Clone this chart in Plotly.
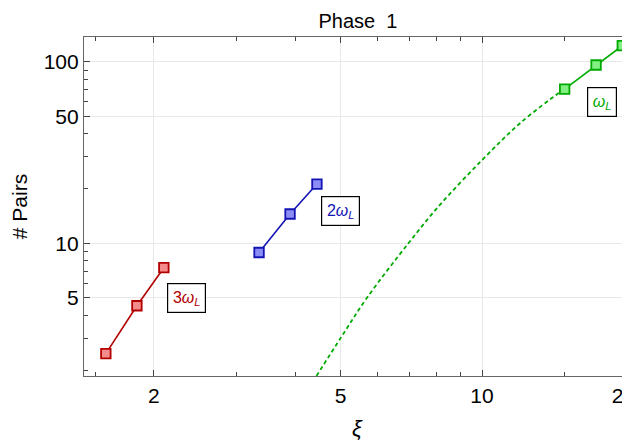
import math
import plotly.graph_objects as go

# ---- data ----
xi_3wl = [1.58, 1.84, 2.10]
pairs_3wl = [2.47, 4.53, 7.34]

xi_2wl = [3.35, 3.90, 4.45]
pairs_2wl = [8.9, 14.5, 21.2]

xi_wl = [15.0, 17.5, 19.9]
pairs_wl = [70.7, 95.9, 122.5]

xi_fit = [4.44, 5.02, 5.69, 6.97, 8.07, 10.0, 12.05, 14.54, 15.0]
pairs_fit = [1.86, 3.06, 5.02, 10.0, 15.9, 28.7, 45.8, 67.0, 70.7]

x_major = [2, 5, 10, 20]
x_major_text = ["2", "5", "10", "20"]
x_minor = [1.5, 3, 4, 6, 7, 8, 9, 15]
x_extra_grid = [3]
y_major = [5, 10, 50, 100]
y_major_text = ["5", "10", "50", "100"]
y_minor = [2, 3, 4, 6, 7, 8, 9, 20, 30, 40, 60, 70, 80, 90]

RED_LINE, RED_FILL = "rgb(178,0,0)", "rgb(244,140,140)"
BLUE_LINE, BLUE_FILL = "rgb(20,20,180)", "rgb(140,140,245)"
GREEN_LINE, GREEN_FILL = "rgb(0,170,0)", "rgb(130,240,130)"
GRID = "#e8e8e8"

fig = go.Figure()

fig.add_trace(go.Scatter(x=xi_fit, y=pairs_fit, mode="lines",
                         line=dict(color=GREEN_LINE, width=1.8, dash="4px,3px", shape="spline",
                                   smoothing=1.0),
                         showlegend=False, hoverinfo="skip"))

for xs, ys, lc, fc in [(xi_3wl, pairs_3wl, RED_LINE, RED_FILL),
                       (xi_2wl, pairs_2wl, BLUE_LINE, BLUE_FILL),
                       (xi_wl, pairs_wl, GREEN_LINE, GREEN_FILL)]:
    fig.add_trace(go.Scatter(x=xs, y=ys, mode="lines+markers",
                             line=dict(color=lc, width=1.6),
                             marker=dict(symbol="square", size=9.5, color=fc,
                                         line=dict(color=lc, width=1.8)),
                             showlegend=False, cliponaxis=False))

FONT = "Liberation Sans, Arial, sans-serif"

def box(x, y, txt, color, w, h):
    return dict(x=math.log10(x), y=math.log10(y), xref="x", yref="y", text=txt, showarrow=False,
                font=dict(family=FONT, size=16, color=color),
                bgcolor="white", bordercolor="black", borderwidth=1.2,
                width=w, height=h, xanchor="center", yanchor="middle")

fig.update_layout(
    annotations=[
        box(2.35, 5.0, "3<i>ω</i><sub><i>L</i></sub>", RED_LINE, 35, 26),
        box(5.0, 15.1, "2<i>ω</i><sub><i>L</i></sub>", BLUE_LINE, 35, 26),
        box(18.0, 60.3, "<i>ω</i><sub><i>L</i></sub>", GREEN_LINE, 26, 26),
    ],
    shapes=[dict(type="line", xref="x", yref="paper", x0=math.log10(v), x1=math.log10(v),
                 y0=0, y1=1, line=dict(color=GRID, width=1), layer="below")
            for v in x_extra_grid],
)

axis_common = dict(type="log", showline=True, linecolor="#666666", linewidth=1.2,
                   ticks="inside", ticklen=6, tickwidth=1, tickcolor="#444444",
                   mirror="allticks", showgrid=True, gridcolor=GRID, gridwidth=1,
                   zeroline=False, automargin=False, ticklabeloverflow="allow",
                   tickfont=dict(family=FONT, size=21, color="black"))

fig.update_xaxes(**axis_common, range=[0.1521, 1.3153], tickmode="array",
                 tickvals=x_major, ticktext=x_major_text, ticklabelstandoff=1,
                 minor=dict(tickmode="array", tickvals=x_minor, ticks="inside", ticklen=3.5,
                            tickcolor="#444444", showgrid=False),
                 title=dict(text="<i>ξ</i>", font=dict(family=FONT, size=22, color="black"), standoff=19))
fig.update_yaxes(**axis_common, range=[0.2693, 2.136], tickmode="array",
                 tickvals=y_major, ticktext=y_major_text,
                 minor=dict(tickmode="array", tickvals=y_minor, ticks="inside", ticklen=3.5,
                            tickcolor="#444444", showgrid=False),
                 title=dict(text="# Pairs", font=dict(family=FONT, size=21, color="black"), standoff=10))

# the page body adds an 8 px offset, so the figure is sized to the remaining window
fig.update_layout(
    width=622, height=433,
    margin=dict(l=76, r=0, t=29, b=65),
    paper_bgcolor="white", plot_bgcolor="white",
    title=dict(text="Phase  1", x=0.5627, xanchor="center", y=0.971, yanchor="middle",
               font=dict(family=FONT, size=20, color="black")),
)

fig.write_html("out.html")
